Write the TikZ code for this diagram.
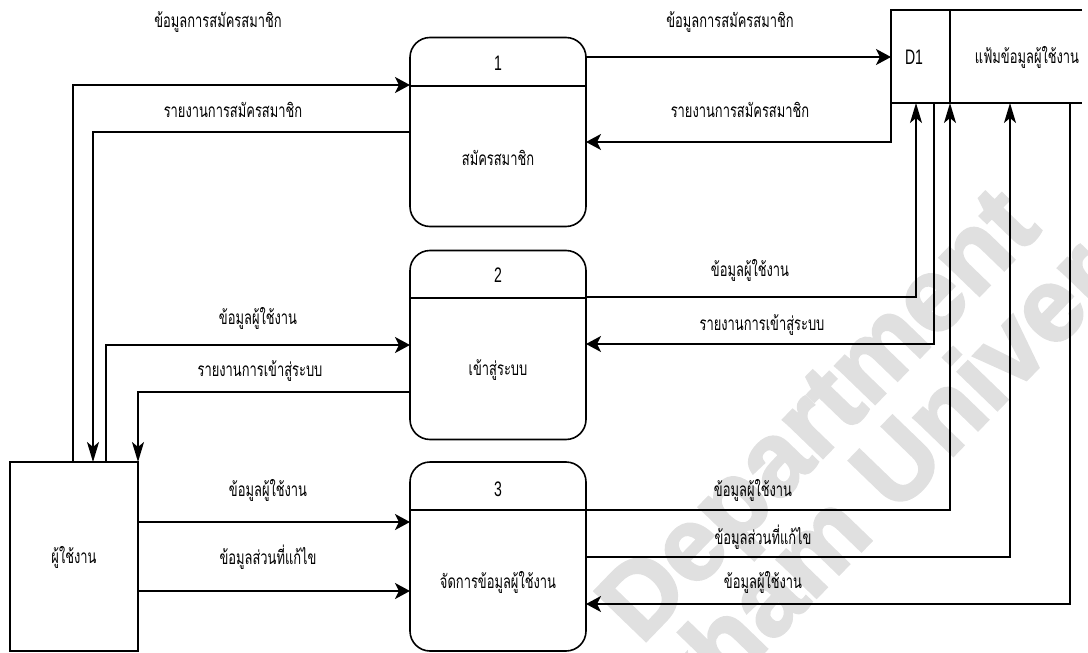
\documentclass[tikz,border=0pt]{standalone}
\usepackage{fontspec}
\setmainfont{Liberation Sans}
\newfontfamily\thai[Script=Thai,FakeStretch=0.68]{Loma}
\newfontfamily\narrowsans[FakeStretch=0.67]{Liberation Sans}
\newfontfamily\heavysans[FakeBold=2.5]{Liberation Sans Bold}
\usetikzlibrary{arrows.meta,calc}

\begin{document}
\begin{tikzpicture}[x=1pt,y=-1pt,
  wire/.style={line width=1.6pt},
  hflow/.style={line width=1.6pt,-{Stealth[length=15pt,width=16pt,inset=4pt]}},
  vflow/.style={line width=1.6pt,-{Stealth[length=20pt,width=12pt,inset=5pt]}},
  lbl/.style={font=\thai\fontsize{19}{21}\selectfont,inner sep=0pt},
  num/.style={font=\narrowsans\fontsize{21}{23}\selectfont,inner sep=0pt},
  proc/.style={draw,line width=1.6pt,rounded corners=20pt,minimum width=176pt,
    minimum height=189pt,inner sep=0pt,outer sep=0pt},
  ent/.style={draw,line width=1.6pt,minimum width=128pt,minimum height=189pt,
    inner sep=0pt,outer sep=0pt},
  cell/.style={minimum width=59pt,minimum height=93pt,inner sep=0pt,outer sep=0pt},
  wm/.style={font=\heavysans\fontsize{104}{110}\selectfont,text=black!12,inner sep=0pt,rotate=46}
]
\useasboundingbox (0,0) rectangle (1088,653);

% faint background lettering
\begin{scope}
  \clip (0,0) rectangle (1088,653);
  \node[wm,anchor=base] (wmA) at (842,438) {Department};
  \node[wm,anchor=base east] (wmB) at (876,536) {Mahasarakham};
  \node[wm,anchor=base west] (wmC) at (896,515) {University};
\end{scope}

% processes
\node[proc] (p1) at (498,132) {};
\node[proc] (p2) at (498,345) {};
\node[proc] (p3) at (498,556.5) {};
\foreach \p/\y in {p1/86,p2/298,p3/510}
  \draw[wire] (\p.west |- 0,\y) -- (\p.east |- 0,\y);
\node[num] (n1) at (498,63) {1};
\node[num] (n2) at (498,275) {2};
\node[num] (n3) at (498,489) {3};
\node[lbl] (t1) at (498,158) {สมัครสมาชิก};
\node[lbl] (t2) at (498,370) {เข้าสู่ระบบ};
\node[lbl] (t3) at (498,582) {จัดการข้อมูลผู้ใช้งาน};

% external entity
\node[ent] (user) at (74,556.5) {};
\node[lbl] (tu) at (74,557) {ผู้ใช้งาน};

% data store
\node[cell] (d1) at (920.5,56.5) {};
\node[num] (d1id) at (914,57) {D1};
\node[lbl] (d1name) at (1027,57) {แฟ้มข้อมูลผู้ใช้งาน};
\coordinate (d1end) at (1082,10);
\draw[wire] (d1end) -- (d1.north west) -- (d1.south west) -- (d1end |- d1.south);
\draw[wire] (d1.north east) -- (d1.south east);

% user <-> process 1
\draw[hflow] (user.north -| 73,0) |- (p1.west |- 0,85);
\draw[vflow] (p1.west |- 0,132) -| (user.north -| 93,0);
\node[lbl] at (218,22) {ข้อมูลการสมัครสมาชิก};
\node[lbl] at (233,110) {รายงานการสมัครสมาชิก};

% user <-> process 2
\draw[hflow] (user.north -| 106,0) |- (p2.west |- 0,345);
\draw[vflow] (p2.west |- 0,392) -| (user.north east);
\node[lbl] at (258,318) {ข้อมูลผู้ใช้งาน};
\node[lbl] at (260,371) {รายงานการเข้าสู่ระบบ};

% user -> process 3
\draw[hflow] (user.east |- 0,522) -- (p3.west |- 0,522);
\draw[hflow] (user.east |- 0,591) -- (p3.west |- 0,591);
\node[lbl] at (268,490) {ข้อมูลผู้ใช้งาน};
\node[lbl] at (268,557) {ข้อมูลส่วนที่แก้ไข};

% process 1 <-> store
\draw[hflow] (p1.east |- 0,57) -- (d1.west |- 0,57);
\draw[hflow] (d1.south west) |- (p1.east |- 0,142);
\node[lbl] at (730,22) {ข้อมูลการสมัครสมาชิก};
\node[lbl] at (740,110) {รายงานการสมัครสมาชิก};

% process 2 <-> store
\draw[vflow] (p2.east |- 0,297) -| (d1.south -| 916,0);
\draw[hflow] (d1.south -| 934,0) |- (p2.east |- 0,344);
\node[lbl] at (750,270) {ข้อมูลผู้ใช้งาน};
\node[lbl] at (762,325) {รายงานการเข้าสู่ระบบ};

% process 3 <-> store
\draw[vflow] (p3.east |- 0,510) -| (d1.south east);
\draw[vflow] (p3.east |- 0,557) -| (d1.south -| 1010,0);
\draw[hflow] (d1.south -| 1070,0) |- (p3.east |- 0,604);
\node[lbl] at (753,490) {ข้อมูลผู้ใช้งาน};
\node[lbl] at (763,537) {ข้อมูลส่วนที่แก้ไข};
\node[lbl] at (763,582) {ข้อมูลผู้ใช้งาน};
\end{tikzpicture}
\end{document}
